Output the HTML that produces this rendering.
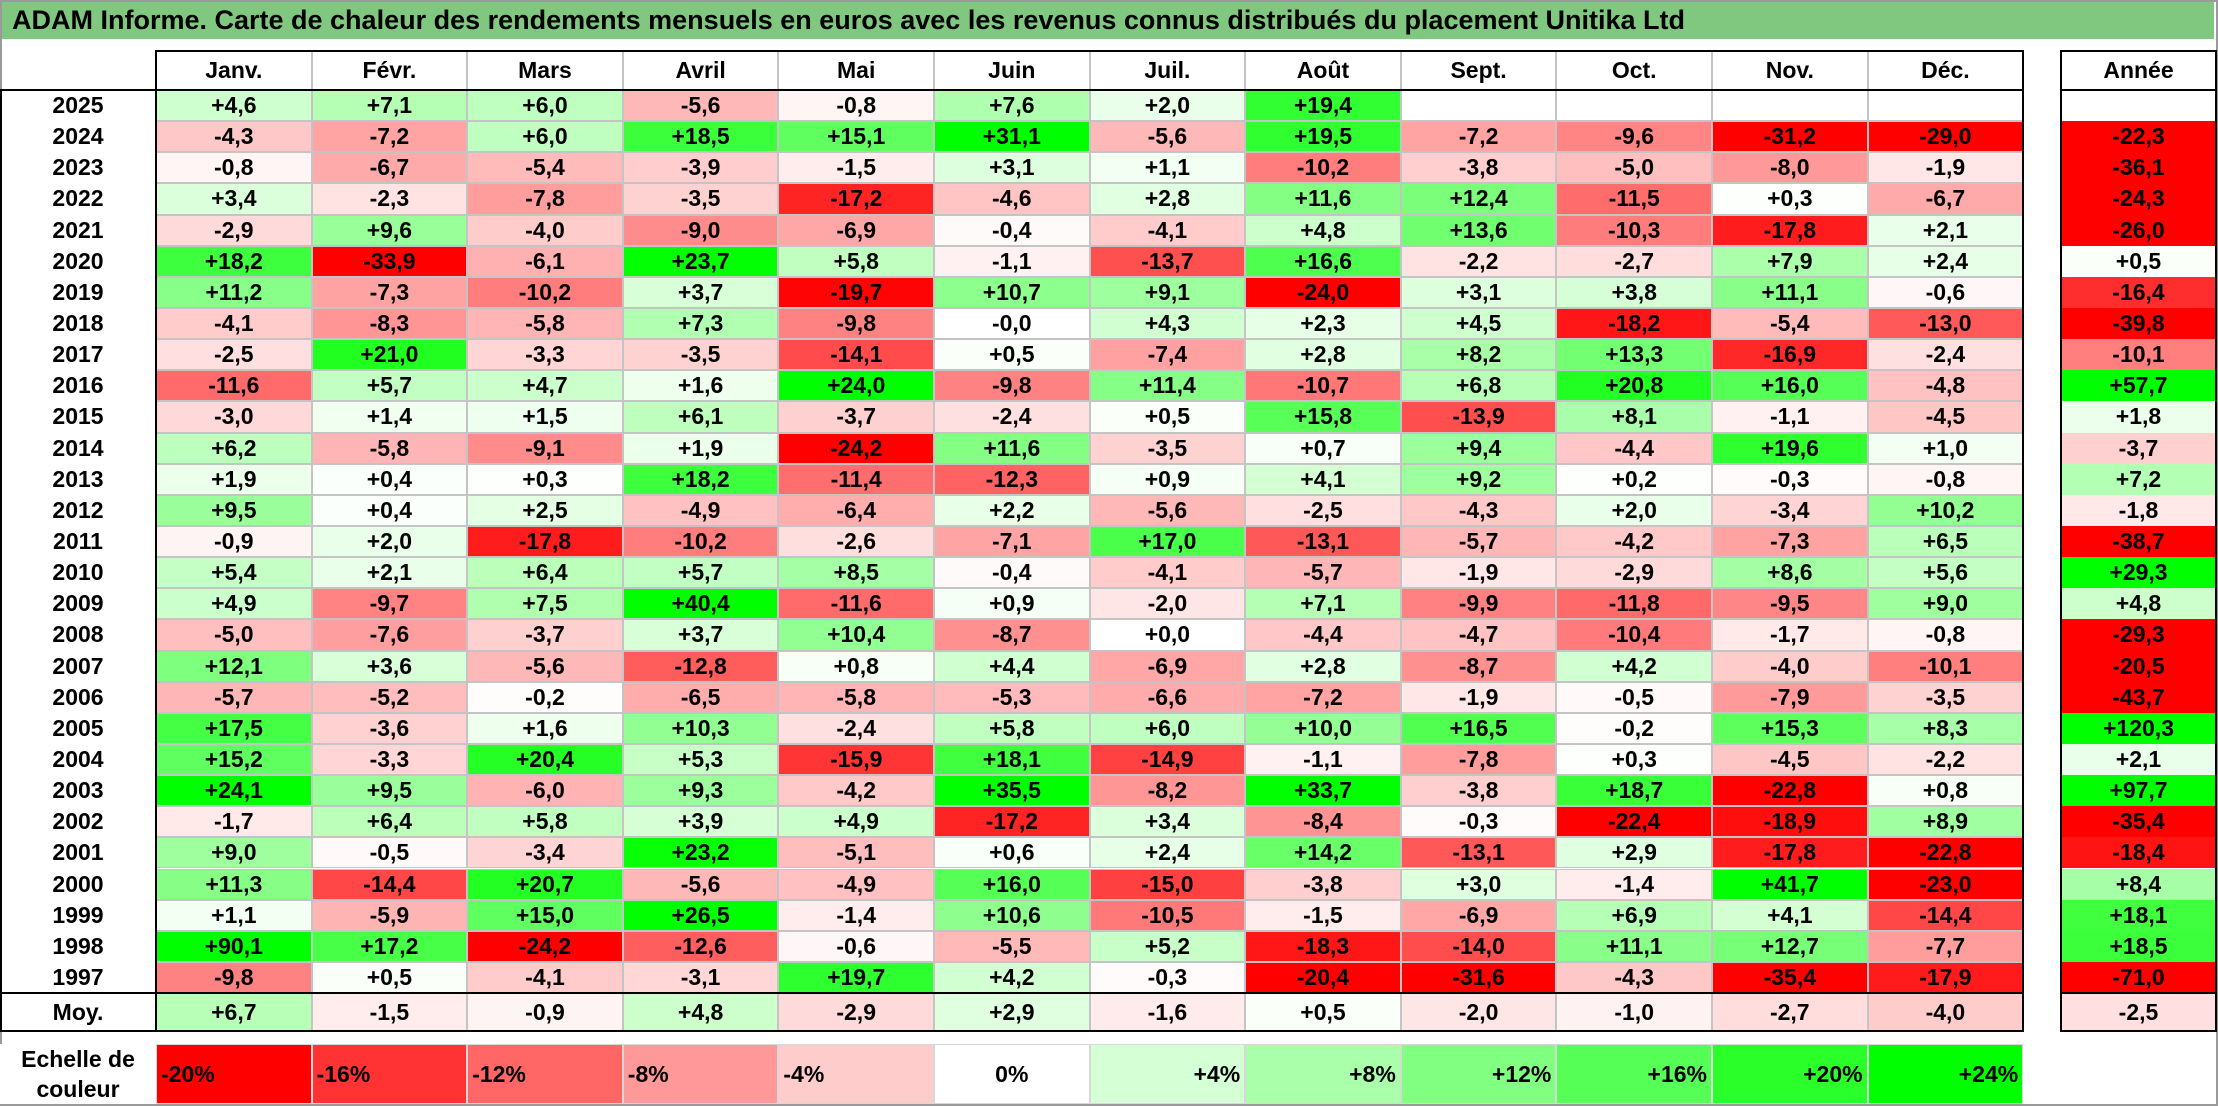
<!DOCTYPE html>
<html><head><meta charset="utf-8">
<style>
body{margin:0;width:2218px;height:1106px;background:#fff;overflow:hidden;font-family:"Liberation Sans",Arial,sans-serif;}
#root{position:absolute;left:0;top:0;width:2218px;height:1106px;}
.c{position:absolute;box-sizing:border-box;display:flex;align-items:center;justify-content:center;font-weight:bold;font-size:23px;color:#000;}
.ln{position:absolute;background:#000;}
</style></head>
<body>
<div id="root">
<div style="position:absolute;left:0;top:0;width:2218px;height:1106px;box-sizing:border-box;border:2px solid #9a9a9a;"></div>
<div style="position:absolute;left:2px;top:2px;width:2212px;height:37px;background:#80c880;font-weight:bold;font-size:27px;line-height:37px;padding-left:10px;box-sizing:border-box;">ADAM Informe. Carte de chaleur des rendements mensuels en euros avec les revenus connus distribués du placement Unitika Ltd</div>
</div>
<script>
const months=["Janv.","Févr.","Mars","Avril","Mai","Juin","Juil.","Août","Sept.","Oct.","Nov.","Déc."];
const years=["2025","2024","2023","2022","2021","2020","2019","2018","2017","2016","2015","2014","2013","2012","2011","2010","2009","2008","2007","2006","2005","2004","2003","2002","2001","2000","1999","1998","1997"];
const monthly=[
[4.6,7.1,6.0,-5.6,-0.8,7.6,2.0,19.4,null,null,null,null],
[-4.3,-7.2,6.0,18.5,15.1,31.1,-5.6,19.5,-7.2,-9.6,-31.2,-29.0],
[-0.8,-6.7,-5.4,-3.9,-1.5,3.1,1.1,-10.2,-3.8,-5.0,-8.0,-1.9],
[3.4,-2.3,-7.8,-3.5,-17.2,-4.6,2.8,11.6,12.4,-11.5,0.3,-6.7],
[-2.9,9.6,-4.0,-9.0,-6.9,-0.4,-4.1,4.8,13.6,-10.3,-17.8,2.1],
[18.2,-33.9,-6.1,23.7,5.8,-1.1,-13.7,16.6,-2.2,-2.7,7.9,2.4],
[11.2,-7.3,-10.2,3.7,-19.7,10.7,9.1,-24.0,3.1,3.8,11.1,-0.6],
[-4.1,-8.3,-5.8,7.3,-9.8,-0.0,4.3,2.3,4.5,-18.2,-5.4,-13.0],
[-2.5,21.0,-3.3,-3.5,-14.1,0.5,-7.4,2.8,8.2,13.3,-16.9,-2.4],
[-11.6,5.7,4.7,1.6,24.0,-9.8,11.4,-10.7,6.8,20.8,16.0,-4.8],
[-3.0,1.4,1.5,6.1,-3.7,-2.4,0.5,15.8,-13.9,8.1,-1.1,-4.5],
[6.2,-5.8,-9.1,1.9,-24.2,11.6,-3.5,0.7,9.4,-4.4,19.6,1.0],
[1.9,0.4,0.3,18.2,-11.4,-12.3,0.9,4.1,9.2,0.2,-0.3,-0.8],
[9.5,0.4,2.5,-4.9,-6.4,2.2,-5.6,-2.5,-4.3,2.0,-3.4,10.2],
[-0.9,2.0,-17.8,-10.2,-2.6,-7.1,17.0,-13.1,-5.7,-4.2,-7.3,6.5],
[5.4,2.1,6.4,5.7,8.5,-0.4,-4.1,-5.7,-1.9,-2.9,8.6,5.6],
[4.9,-9.7,7.5,40.4,-11.6,0.9,-2.0,7.1,-9.9,-11.8,-9.5,9.0],
[-5.0,-7.6,-3.7,3.7,10.4,-8.7,0.0,-4.4,-4.7,-10.4,-1.7,-0.8],
[12.1,3.6,-5.6,-12.8,0.8,4.4,-6.9,2.8,-8.7,4.2,-4.0,-10.1],
[-5.7,-5.2,-0.2,-6.5,-5.8,-5.3,-6.6,-7.2,-1.9,-0.5,-7.9,-3.5],
[17.5,-3.6,1.6,10.3,-2.4,5.8,6.0,10.0,16.5,-0.2,15.3,8.3],
[15.2,-3.3,20.4,5.3,-15.9,18.1,-14.9,-1.1,-7.8,0.3,-4.5,-2.2],
[24.1,9.5,-6.0,9.3,-4.2,35.5,-8.2,33.7,-3.8,18.7,-22.8,0.8],
[-1.7,6.4,5.8,3.9,4.9,-17.2,3.4,-8.4,-0.3,-22.4,-18.9,8.9],
[9.0,-0.5,-3.4,23.2,-5.1,0.6,2.4,14.2,-13.1,2.9,-17.8,-22.8],
[11.3,-14.4,20.7,-5.6,-4.9,16.0,-15.0,-3.8,3.0,-1.4,41.7,-23.0],
[1.1,-5.9,15.0,26.5,-1.4,10.6,-10.5,-1.5,-6.9,6.9,4.1,-14.4],
[90.1,17.2,-24.2,-12.6,-0.6,-5.5,5.2,-18.3,-14.0,11.1,12.7,-7.7],
[-9.8,0.5,-4.1,-3.1,19.7,4.2,-0.3,-20.4,-31.6,-4.3,-35.4,-17.9]];
const yearly=[null,-22.3,-36.1,-24.3,-26.0,0.5,-16.4,-39.8,-10.1,57.7,1.8,-3.7,7.2,-1.8,-38.7,29.3,4.8,-29.3,-20.5,-43.7,120.3,2.1,97.7,-35.4,-18.4,8.4,18.1,18.5,-71.0];
const averages=[6.7,-1.5,-0.9,4.8,-2.9,2.9,-1.6,0.5,-2.0,-1.0,-2.7,-4.0];
const avgYear=-2.5;
const scaleLabels=["-20%","-16%","-12%","-8%","-4%","0%","+4%","+8%","+12%","+16%","+20%","+24%"];
const scaleValues=[-20,-16,-12,-8,-4,0,4,8,12,16,20,24];

const root=document.getElementById('root');
const X0=156,CW=155.6,YX=2061,YW=155,Y0=90,RH=31.14;
function colX(j){return X0+j*CW;}
function rowY(i){return Y0+i*RH;}
function color(v){
  if(v===null) return '#fff';
  if(v>=0){const t=Math.min(v/24,1);const c=Math.round(255*(1-t));return `rgb(${c},255,${c})`;}
  const t=Math.min(-v/20,1);const c=Math.round(255*(1-t));return `rgb(255,${c},${c})`;
}
function fmt(v){
  if(v===null) return '';
  const neg=v<0||Object.is(v,-0);
  return (neg?'-':'+')+Math.abs(v).toFixed(1).replace('.',',');
}
function cell(x,y,w,h,txt,bg,name,border){
  const d=document.createElement('div');
  d.className='c';
  d.style.left=x+'px';d.style.top=y+'px';d.style.width=w+'px';d.style.height=h+'px';
  d.style.background=bg;
  if(border) d.style.border='1px solid #c4c4c4';
  d.textContent=txt;
  
  
  root.appendChild(d);return d;
}
function line(x,y,w,h,name){
  const d=document.createElement('div');
  d.className='ln';
  d.style.left=x+'px';d.style.top=y+'px';d.style.width=w+'px';d.style.height=h+'px';
  
  
  root.appendChild(d);
}
months.forEach((m,j)=>{const d=cell(colX(j),51,CW,39,m,'#fff','month-header',true);d.style.borderTop='none';});
cell(YX,51,YW,39,'Année','#fff','year-total-header',false);
years.forEach((y,i)=>{
  cell(0,rowY(i),X0,RH,y,'#fff','year-label',false);
  monthly[i].forEach((v,j)=>{cell(colX(j),rowY(i),CW,RH,fmt(v),color(v),'heat-cell',true);});
  cell(YX,rowY(i),YW,RH,fmt(yearly[i]),color(yearly[i]),'year-total-cell',false);
});
const yEnd=rowY(years.length);
const MH=1031-yEnd;
cell(0,yEnd,X0,MH,'Moy.','#fff','average-label',false);
averages.forEach((v,j)=>cell(colX(j),yEnd,CW,MH,fmt(v),color(v),'average-cell',true));
cell(YX,yEnd,YW,MH,fmt(avgYear),color(avgYear),'average-year-cell',false);
const XR=colX(12);
line(X0-1,50,XR-X0+2,2,'header-top-border');
line(X0-1,50,2,1032-50,'label-column-border');
line(XR-1,50,2,1032-50,'table-right-border');
line(0,89,XR,2,'header-bottom-border');
line(0,yEnd-1,XR,2,'average-top-border');
line(0,1030,XR,2,'average-bottom-border');
line(0,89,2,943,'table-left-border');
line(YX-1,50,YW+2,2,'year-header-top');
line(YX-1,89,YW+2,2,'year-header-bottom');
line(YX-1,50,2,982,'year-left-border');
line(YX+YW-1,50,2,982,'year-right-border');
line(YX-1,yEnd-1,YW+2,2,'year-average-top');
line(YX-1,1030,YW+2,2,'year-average-bottom');
const sl=cell(0,1044,X0,60,'','#fff','scale-label',false);
sl.innerHTML='Echelle de<br>couleur';sl.style.textAlign='center';sl.style.lineHeight='30px';
scaleValues.forEach((v,j)=>{
  const d=cell(colX(j),1044,CW,60,scaleLabels[j],color(v),'scale-swatch',true);
  d.style.borderColor='#d8d8d8';
  if(v<0){d.style.justifyContent='flex-start';d.style.paddingLeft='4px';}
  else if(v>0){d.style.justifyContent='flex-end';d.style.paddingRight='4px';}
  d.style.fontSize='23px';
});
</script>
</body></html>
